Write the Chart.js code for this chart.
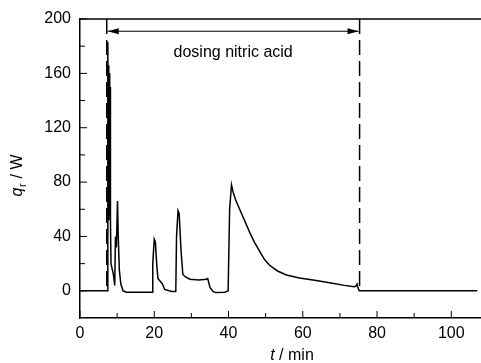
<!DOCTYPE html>
<html>
<head>
<meta charset="utf-8">
<script src="https://cdn.jsdelivr.net/npm/chart.js@4"></script>
<style>
html, body { margin: 0; padding: 0; background: #fff; }
#wrap { width: 481px; height: 363px; position: relative; }
</style>
</head>
<body>
<div id="wrap"><canvas id="myChart"></canvas></div>
<script>
// tempo (min) e fluxo de calor q_r (W)
const tempo = [0, 7.4, 7.5, 7.6, 7.7, 7.8, 7.9, 8.0, 8.1, 8.2, 8.35, 9.0, 9.35, 9.55, 9.8, 10.1, 10.3, 10.6, 11.0, 11.6, 12.5,
  19.4, 19.6, 20.0, 20.3, 20.7, 21.0, 21.6, 22.2, 22.8, 24.7, 25.8, 26.0, 26.4, 26.7, 27.2, 27.7, 28.5, 29.6, 32.0, 34.0, 34.4,
  35.0, 35.8, 36.5, 39.0, 39.9, 40.3, 40.8, 41.2, 41.9, 43.0, 44.6, 45.7, 47.0, 48.4, 49.7, 51.0, 53.2, 55.6, 59.1, 63.2,
  67.2, 71.2, 73.9, 74.3, 74.6, 74.9, 75.2, 107];
const calor = [0, 0, 183, 60, 166, 52, 160, 55, 150, 52, 20, 12, 4, 40, 32, 66, 40, 15, 5, 0, -1,
  -1, 20, 38, 36, 18, 9, 7, 5, 1, -0.5, -0.5, 40, 59, 57, 30, 12, 10, 8.5, 8, 8.5, 9,
  2.5, -0.5, -1.3, -1, 0, 60, 78, 73, 67, 60, 50, 43, 35.6, 29, 23, 19, 14.6, 11.6, 9.4, 7.7,
  6, 4, 3, 3.5, 5, 2, 0, 0];

const xTicks = [0, 20, 40, 60, 80, 100];
const xMinor = [10, 30, 50, 70, 90];
const yTicks = [0, 40, 80, 120, 160, 200];
const yMinor = [20, 60, 100, 140, 180];

// periodo de dosagem do acido nitrico
const inicioDosagem = 7.2;
const fimDosagem = 75.3;
const nivelSeta = 191;
const nivelTexto = 175;
const textoDosagem = 'dosing nitric acid';

const fonte = 'Liberation Sans, Arial, sans-serif';

const extras = {
  id: 'extras',
  afterDraw(chart) {
    const { ctx, chartArea: a, scales: { x, y } } = chart;
    const linha = (x1, y1, x2, y2) => {
      ctx.beginPath(); ctx.moveTo(x1, y1); ctx.lineTo(x2, y2); ctx.stroke();
    };
    ctx.save();
    ctx.strokeStyle = '#000';
    ctx.fillStyle = '#000';

    // borda de cima
    ctx.lineWidth = 1.5;
    linha(a.left, a.top, a.right, a.top);

    // ticks para dentro
    ctx.lineWidth = 1;
    xTicks.forEach(v => { const p = x.getPixelForValue(v); linha(p, a.bottom, p, a.bottom - 7); });
    xMinor.forEach(v => { const p = x.getPixelForValue(v); linha(p, a.bottom, p, a.bottom - 5); });
    yTicks.forEach(v => { const p = y.getPixelForValue(v); linha(a.left, p, a.left + 7, p); });
    yMinor.forEach(v => { const p = y.getPixelForValue(v); linha(a.left, p, a.left + 5, p); });

    // linhas tracejadas
    ctx.lineWidth = 1.5;
    ctx.setLineDash([15, 6]);
    [inicioDosagem, fimDosagem].forEach(v => {
      const p = x.getPixelForValue(v);
      linha(p, y.getPixelForValue(200), p, y.getPixelForValue(0));
    });
    ctx.setLineDash([]);

    // seta
    const x1 = x.getPixelForValue(inicioDosagem) + 1;
    const x2 = x.getPixelForValue(fimDosagem) - 1;
    const ys = y.getPixelForValue(nivelSeta);
    ctx.lineWidth = 1;
    linha(x1, ys, x2, ys);
    ctx.beginPath(); ctx.moveTo(x1, ys); ctx.lineTo(x1 + 11, ys - 3); ctx.lineTo(x1 + 11, ys + 3); ctx.closePath(); ctx.fill();
    ctx.beginPath(); ctx.moveTo(x2, ys); ctx.lineTo(x2 - 11, ys - 3); ctx.lineTo(x2 - 11, ys + 3); ctx.closePath(); ctx.fill();

    ctx.font = '16px ' + fonte;
    ctx.textAlign = 'center';
    ctx.textBaseline = 'middle';
    ctx.fillText(textoDosagem, (x1 + x2) / 2, y.getPixelForValue(nivelTexto));

    // titulo do eixo x: t / min
    ctx.textAlign = 'left';
    ctx.textBaseline = 'alphabetic';
    ctx.font = 'italic 16px ' + fonte;
    const wT = ctx.measureText('t').width;
    ctx.font = '16px ' + fonte;
    const wMin = ctx.measureText(' / min').width;
    let sx = 292 - (wT + wMin) / 2;
    ctx.font = 'italic 16px ' + fonte;
    ctx.fillText('t', sx, 360);
    ctx.font = '16px ' + fonte;
    ctx.fillText(' / min', sx + wT, 360);

    // titulo do eixo y: q_r / W
    ctx.translate(22, 176);
    ctx.rotate(-Math.PI / 2);
    ctx.font = 'italic 16px ' + fonte;
    const wQ = ctx.measureText('q').width;
    ctx.font = '11px ' + fonte;
    const wR = ctx.measureText('r').width;
    ctx.font = '16px ' + fonte;
    const wW = ctx.measureText(' / W').width;
    sx = -(wQ + wR + wW) / 2;
    ctx.font = 'italic 16px ' + fonte;
    ctx.fillText('q', sx, 0);
    ctx.font = '11px ' + fonte;
    ctx.fillText('r', sx + wQ + 0.5, 4);
    ctx.font = '16px ' + fonte;
    ctx.fillText(' / W', sx + wQ + wR + 1, 0);
    ctx.restore();
  }
};

const ctx = document.getElementById('myChart');
new Chart(ctx, {
  type: 'line',
  data: {
    datasets: [{
      data: tempo.map((t, i) => ({ x: t, y: calor[i] })),
      borderColor: '#000',
      borderWidth: 1.5,
      pointRadius: 0,
      tension: 0,
      fill: false
    }]
  },
  options: {
    responsive: true,
    maintainAspectRatio: false,
    animation: false,
    devicePixelRatio: 1,
    layout: { padding: { top: 19, right: 0, left: 0, bottom: 0 } },
    plugins: {
      legend: { display: false },
      tooltip: { enabled: false }
    },
    scales: {
      x: {
        type: 'linear',
        min: 0,
        max: 108,
        grid: { display: false, drawTicks: false },
        border: { display: true, color: '#000', width: 1.5 },
        ticks: { color: '#000', padding: 6, maxRotation: 0, font: { family: fonte, size: 16 } },
        afterBuildTicks: s => { s.ticks = xTicks.map(v => ({ value: v })); },
        afterFit: s => { s.height = 45; }
      },
      y: {
        min: -20,
        max: 200,
        grid: { display: false, drawTicks: false },
        border: { display: true, color: '#000', width: 1.5 },
        ticks: { color: '#000', padding: 9, font: { family: fonte, size: 16 } },
        afterBuildTicks: s => { s.ticks = yTicks.map(v => ({ value: v })); },
        afterFit: s => { s.width = 80; }
      }
    }
  },
  plugins: [extras]
});
</script>
</body>
</html>
